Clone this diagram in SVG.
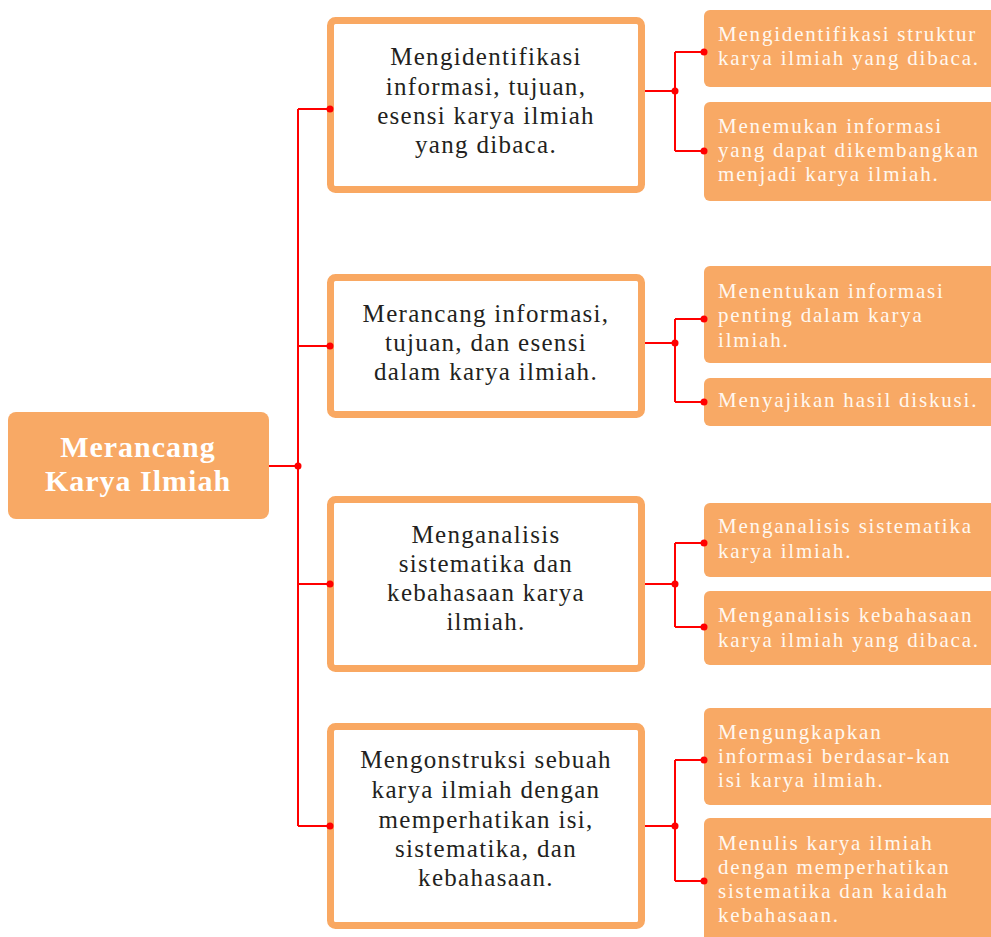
<svg xmlns="http://www.w3.org/2000/svg" width="991" height="937" viewBox="0 0 991 937">
<style>
.root{fill:#F8A965}
.mid{fill:#fff;stroke:#F9A862;stroke-width:7}
.leaf{fill:#F8A965}
.rt{font-family:"Liberation Serif","Times New Roman",serif;font-weight:bold;font-size:30px;fill:#fff;text-anchor:middle;letter-spacing:1px}
.mt{font-family:"Liberation Serif","Times New Roman",serif;font-size:25px;fill:#231f20;text-anchor:middle;letter-spacing:1.3px}
.lt{font-family:"Liberation Serif","Times New Roman",serif;font-size:21px;fill:#fff8f0;letter-spacing:1.8px}
.cn{fill:none;stroke:#FF0000;stroke-width:2}
.dot{fill:#FF0000}
</style>
<rect width="991" height="937" fill="#fff"/>
<g id="root">
<rect class="root" x="8" y="412" width="261" height="107" rx="8"/>
<text class="rt" x="138" y="457">Merancang</text>
<text class="rt" x="138" y="491">Karya Ilmiah</text>
</g>
<g id="mid1">
<rect class="mid" x="330.5" y="20.5" width="311" height="169" rx="5"/>
<text class="mt" x="486" y="65">Mengidentifikasi</text>
<text class="mt" x="486" y="95">informasi, tujuan,</text>
<text class="mt" x="486" y="124">esensi karya ilmiah</text>
<text class="mt" x="486" y="153">yang dibaca.</text>
</g>
<g id="mid2">
<rect class="mid" x="330.5" y="277.5" width="311" height="137" rx="5"/>
<text class="mt" x="486" y="322">Merancang informasi,</text>
<text class="mt" x="486" y="351">tujuan, dan esensi</text>
<text class="mt" x="486" y="380">dalam karya ilmiah.</text>
</g>
<g id="mid3">
<rect class="mid" x="330.5" y="499.5" width="311" height="169" rx="5"/>
<text class="mt" x="486" y="543">Menganalisis</text>
<text class="mt" x="486" y="572">sistematika dan</text>
<text class="mt" x="486" y="601">kebahasaan karya</text>
<text class="mt" x="486" y="630">ilmiah.</text>
</g>
<g id="mid4">
<rect class="mid" x="330.5" y="726.5" width="311" height="199" rx="5"/>
<text class="mt" x="486" y="768">Mengonstruksi sebuah</text>
<text class="mt" x="486" y="798">karya ilmiah dengan</text>
<text class="mt" x="486" y="828">memperhatikan isi,</text>
<text class="mt" x="486" y="857">sistematika, dan</text>
<text class="mt" x="486" y="886">kebahasaan.</text>
</g>
<g id="leaf1a">
<rect class="leaf" x="704" y="10" width="297" height="77" rx="6"/>
<text class="lt" x="718" y="41">Mengidentifikasi struktur</text>
<text class="lt" x="718" y="65">karya ilmiah yang dibaca.</text>
</g>
<g id="leaf1b">
<rect class="leaf" x="704" y="102" width="297" height="99" rx="6"/>
<text class="lt" x="718" y="133">Menemukan informasi</text>
<text class="lt" x="718" y="157">yang dapat dikembangkan</text>
<text class="lt" x="718" y="181">menjadi karya ilmiah.</text>
</g>
<g id="leaf2a">
<rect class="leaf" x="704" y="266" width="297" height="97" rx="6"/>
<text class="lt" x="718" y="298">Menentukan informasi</text>
<text class="lt" x="718" y="322">penting dalam karya</text>
<text class="lt" x="718" y="347">ilmiah.</text>
</g>
<g id="leaf2b">
<rect class="leaf" x="704" y="378" width="297" height="48" rx="6"/>
<text class="lt" x="718" y="407">Menyajikan hasil diskusi.</text>
</g>
<g id="leaf3a">
<rect class="leaf" x="704" y="503" width="297" height="74" rx="6"/>
<text class="lt" x="718" y="533">Menganalisis sistematika</text>
<text class="lt" x="718" y="558">karya ilmiah.</text>
</g>
<g id="leaf3b">
<rect class="leaf" x="704" y="591" width="297" height="74" rx="6"/>
<text class="lt" x="718" y="622">Menganalisis kebahasaan</text>
<text class="lt" x="718" y="647">karya ilmiah yang dibaca.</text>
</g>
<g id="leaf4a">
<rect class="leaf" x="704" y="708" width="297" height="97" rx="6"/>
<text class="lt" x="718" y="739">Mengungkapkan</text>
<text class="lt" x="718" y="763">informasi berdasar-kan</text>
<text class="lt" x="718" y="787">isi karya ilmiah.</text>
</g>
<g id="leaf4b">
<rect class="leaf" x="704" y="818" width="297" height="130" rx="6"/>
<text class="lt" x="718" y="850">Menulis karya ilmiah</text>
<text class="lt" x="718" y="874">dengan memperhatikan</text>
<text class="lt" x="718" y="898">sistematika dan kaidah</text>
<text class="lt" x="718" y="922">kebahasaan.</text>
</g>
<g id="connectors">
<path class="cn" d="M269 466H298M298 109V826M298 109H330M298 346H330M298 584H330M298 826H330"/>
<path class="cn" d="M645 91H675M675 52V151M675 52H704M675 151H704"/>
<path class="cn" d="M645 343H675M675 319V402M675 319H704M675 402H704"/>
<path class="cn" d="M645 584H675M675 543V627M675 543H704M675 627H704"/>
<path class="cn" d="M645 826H675M675 760V881M675 760H704M675 881H704"/>
<circle class="dot" cx="298" cy="466" r="3.5"/>
<circle class="dot" cx="330" cy="109" r="3.5"/>
<circle class="dot" cx="330" cy="346" r="3.5"/>
<circle class="dot" cx="330" cy="584" r="3.5"/>
<circle class="dot" cx="330" cy="826" r="3.5"/>
<circle class="dot" cx="675" cy="91" r="3.5"/>
<circle class="dot" cx="675" cy="343" r="3.5"/>
<circle class="dot" cx="675" cy="584" r="3.5"/>
<circle class="dot" cx="675" cy="826" r="3.5"/>
<circle class="dot" cx="704" cy="52" r="3.5"/>
<circle class="dot" cx="704" cy="151" r="3.5"/>
<circle class="dot" cx="704" cy="319" r="3.5"/>
<circle class="dot" cx="704" cy="402" r="3.5"/>
<circle class="dot" cx="704" cy="543" r="3.5"/>
<circle class="dot" cx="704" cy="627" r="3.5"/>
<circle class="dot" cx="704" cy="760" r="3.5"/>
<circle class="dot" cx="704" cy="881" r="3.5"/>
</g>
</svg>
